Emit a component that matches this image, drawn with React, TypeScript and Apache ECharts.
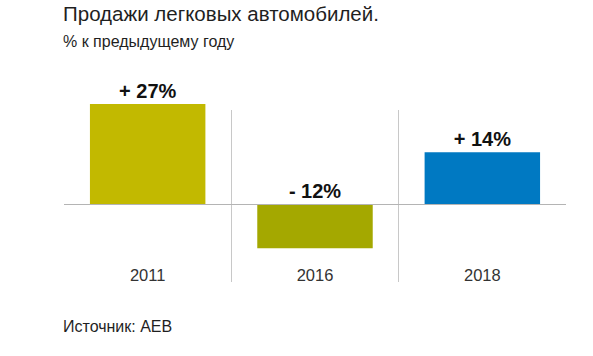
import React, { useEffect, useRef } from "react";
import * as echarts from "echarts";

const categories = ["2011", "2016", "2018"];
const values = [27, -12, 14];
const barColors = ["#c2b900", "#a4a800", "#0079c2"];

const titleText = "Продажи легковых автомобилей.";
const subtitleText = "% к предыдущему году";
const sourceText = "Источник: AEB";

const FONT = "'Liberation Sans', Arial, sans-serif";

export default function App() {
  const ref = useRef<HTMLDivElement>(null);
  useEffect(() => {
    if (!ref.current) return;
    const chart = echarts.init(ref.current, undefined, { renderer: "svg" });
    chart.setOption({
      animation: false,
      backgroundColor: "#ffffff",
      textStyle: { fontFamily: FONT },
      grid: { left: 64, right: 27, top: 110, bottom: 74 },
      graphic: [
        {
          type: "text",
          left: 63,
          top: 3,
          style: { text: titleText, font: `20.5px ${FONT}`, fill: "#1f1f1f" },
        },
        {
          type: "text",
          left: 63,
          top: 33,
          style: { text: subtitleText, font: `16px ${FONT}`, fill: "#1f1f1f" },
        },
        {
          type: "text",
          left: 63,
          top: 318,
          style: { text: sourceText, font: `16px ${FONT}`, fill: "#1f1f1f" },
        },
      ],
      xAxis: {
        type: "category",
        data: categories,
        position: "bottom",
        axisLine: { show: false },
        axisTick: { show: false },
        axisLabel: {
          inside: true,
          margin: -1,
          color: "#333333",
          fontSize: 16.5,
          fontFamily: FONT,
        },
        splitLine: {
          show: true,
          showMinLine: false,
          showMaxLine: false,
          lineStyle: { color: "#c8c8c8", width: 1 },
        },
      },
      yAxis: {
        type: "value",
        min: -21.1,
        max: 25.4,
        show: false,
        splitLine: { show: false },
      },
      series: [
        {
          type: "bar",
          clip: false,
          barWidth: "69%",
          data: values.map((v, i) => ({
            value: v,
            itemStyle: { color: barColors[i] },
          })),
          label: {
            show: true,
            position: "top",
            distance: 3,
            color: "#111111",
            fontSize: 20,
            fontWeight: "bold",
            fontFamily: FONT,
            formatter: (p: any) =>
              (p.value >= 0 ? "+ " : "- ") + Math.abs(p.value) + "%",
          },
          markLine: {
            silent: true,
            symbol: "none",
            label: { show: false },
            lineStyle: { color: "#b4b4b4", width: 1, type: "solid" },
            data: [{ yAxis: 0 }],
          },
        },
      ],
    });
    return () => chart.dispose();
  }, []);
  return (
    <div
      ref={ref}
      style={{ position: "fixed", left: 0, top: 0, width: 593, height: 356 }}
    />
  );
}
